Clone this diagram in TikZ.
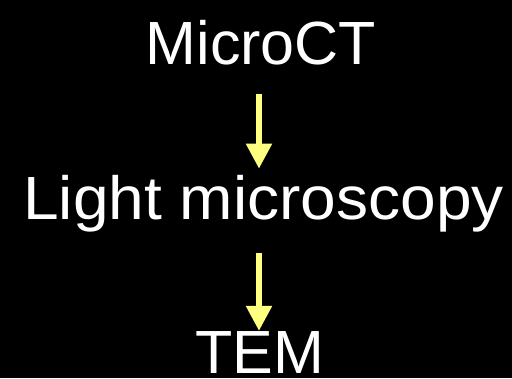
\documentclass[tikz,border=0pt]{standalone}
\usepackage{fontspec}
\setmainfont{Liberation Sans}
\usetikzlibrary{arrows.meta}
\definecolor{arrowyellow}{RGB}{255,255,128}
\tikzset{
  lbl/.style={text=white, inner sep=0pt, anchor=base, font=\fontsize{61}{70}\selectfont},
  arr/.style={draw=arrowyellow, line width=5.5pt, -{Triangle[length=25pt,width=25pt]}}
}
\begin{document}
\begin{tikzpicture}[x=1pt,y=1pt]
\fill[black] (0,0) rectangle (512,378);
\useasboundingbox (0,0) rectangle (512,378);
\node[lbl] (micro) at (261,313) {MicroCT};
\node[lbl, font=\fontsize{61}{70}\selectfont, xscale=1.05] (light) at (263.5,158) {Light microscopy};
\node[lbl] (tem) at (259.5,5) {TEM};
\coordinate (axis) at (259,0);
\draw[arr, shorten <=28pt, shorten >=7pt] (micro.south -| axis) -- (light.north -| axis);
\draw[arr, shorten <=20pt, shorten >=0pt] (light.south -| axis) -- (tem.north -| axis);
\end{tikzpicture}
\end{document}
